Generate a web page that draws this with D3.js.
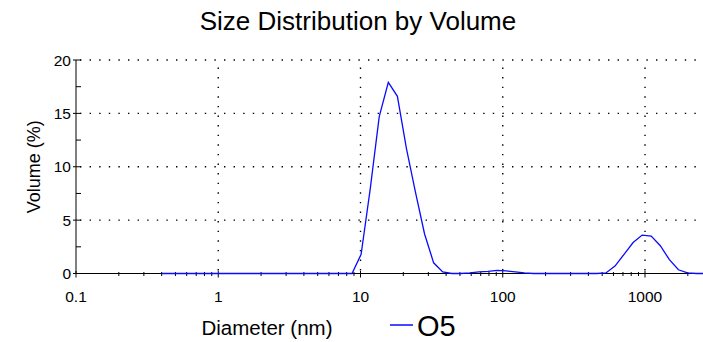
<!DOCTYPE html>
<html><head><meta charset="utf-8">
<script src="https://cdn.jsdelivr.net/npm/d3@7/dist/d3.min.js"></script>
<style>body{margin:0;background:#fff}svg{display:block}text{font-family:"Liberation Sans",Arial,sans-serif;fill:#000}</style>
</head><body><svg id="c" width="703" height="342"></svg>
<script>
const sizes = [0.4,0.4632,0.5365,0.6213,0.7195,0.8332,0.9649,1.117,1.294,1.499,1.736,2.01,2.328,2.696,3.122,3.615,4.187,4.849,5.615,6.503,7.531,8.721,
  10.1,11.7,13.54,15.69,18.17,21.04,24.36,28.21,32.67,37.84,43.82,50.75,58.77,68.06,78.82,91.28,105.7,122.4,141.8,164.2,190.1,220.2,255.0,295.3,342.0,396.1,458.7,
  531.2,615.1,712.4,825.0,955.4,1106,1281,1484,1718,1990,2305,2669];
const volume = [0,0,0,0,0,0,0,0,0,0,0,0,0,0,0,0,0,0,0,0,0,0,
  1.8,7.9,14.7,17.9,16.6,11.7,7.6,3.7,1.0,0.15,0,0,0.05,0.15,0.2,0.3,0.25,0.15,0.05,0,0,0,0,0,0,0,0,
  0.05,0.7,1.8,2.9,3.6,3.5,2.6,1.3,0.35,0.05,0,0];
const xTicks = [0.1,1,10,100,1000];
const xTickLabels = ["0.1","1","10","100","1000"];
const yTicks = [0,5,10,15,20];
const seriesName = "O5";

(function(){
const svg = d3.select("#c");
const pL = 76, pR = 703, pT = 60, pB = 273.5;
const x = d3.scaleLog().domain([0.1, Math.pow(10, -1 + (pR-pL)/((645-76)/4))]).range([pL, pR]);
const y = d3.scaleLinear().domain([0,20]).range([pB, pT]);

const grid = svg.append("g").attr("stroke","#000").attr("stroke-width",1.4).attr("stroke-dasharray","1.4 8.2");
yTicks.filter(v=>v>0).forEach(v=>grid.append("line").attr("x1",pL+4).attr("x2",pR).attr("y1",y(v)).attr("y2",y(v)));
xTicks.filter(v=>v>0.1).forEach(v=>grid.append("line").attr("x1",x(v)).attr("x2",x(v)).attr("y1",pB-3).attr("y2",pT));

const minor = [];
for (let d=0.1; d<3000; d*=10) for (let k=2;k<=9;k++){ const v=d*k; if (v<=x.domain()[1]) minor.push(v);}
const ax = svg.append("g").attr("stroke","#000").attr("stroke-width",1);
minor.forEach(v=>ax.append("line").attr("x1",x(v)).attr("x2",x(v)).attr("y1",pB-1.5).attr("y2",pB+2.5));
xTicks.forEach(v=>ax.append("line").attr("x1",x(v)).attr("x2",x(v)).attr("y1",pB-2.5).attr("y2",pB+4));
yTicks.forEach(v=>ax.append("line").attr("x1",pL-3).attr("x2",pL+5).attr("y1",y(v)).attr("y2",y(v)));
[2.5,7.5,12.5,17.5].forEach(v=>ax.append("line").attr("x1",pL).attr("x2",pL+5).attr("y1",y(v)).attr("y2",y(v)));
ax.append("line").attr("x1",pL).attr("x2",pR).attr("y1",pB).attr("y2",pB);
ax.append("line").attr("x1",pL).attr("x2",pL).attr("y1",pB).attr("y2",pT);

svg.selectAll(".xl").data(xTicks).enter().append("text").attr("x",d=>x(d)).attr("y",pB+28)
  .attr("text-anchor","middle").attr("font-size",15.5).text((d,i)=>xTickLabels[i]);
svg.selectAll(".yl").data(yTicks).enter().append("text").attr("x",pL-5).attr("y",d=>y(d)+5.5)
  .attr("text-anchor","end").attr("font-size",15.5).text(d=>d);

svg.append("clipPath").attr("id","cp").append("rect").attr("x",pL).attr("y",0).attr("width",pR-pL).attr("height",pB+2);
const line = d3.line().x((d,i)=>x(sizes[i])).y(d=>y(d));
svg.append("path").datum(volume).attr("d",line).attr("fill","none").attr("stroke","#0a0aff").attr("stroke-width",1.3).attr("clip-path","url(#cp)");

svg.append("text").attr("x",358).attr("y",30).attr("text-anchor","middle").attr("font-size",26).text("Size Distribution by Volume");
svg.append("text").attr("transform",`translate(40,${(pT+pB)/2}) rotate(-90)`).attr("text-anchor","middle").attr("font-size",18).text("Volume (%)");
svg.append("text").attr("x",267).attr("y",335).attr("text-anchor","middle").attr("font-size",20.5).text("Diameter (nm)");
svg.append("line").attr("x1",390).attr("x2",413).attr("y1",325).attr("y2",325).attr("stroke","#0a0aff").attr("stroke-width",1.5);
svg.append("text").attr("x",417).attr("y",336).attr("font-size",29).text(seriesName);
})();
</script></body></html>
